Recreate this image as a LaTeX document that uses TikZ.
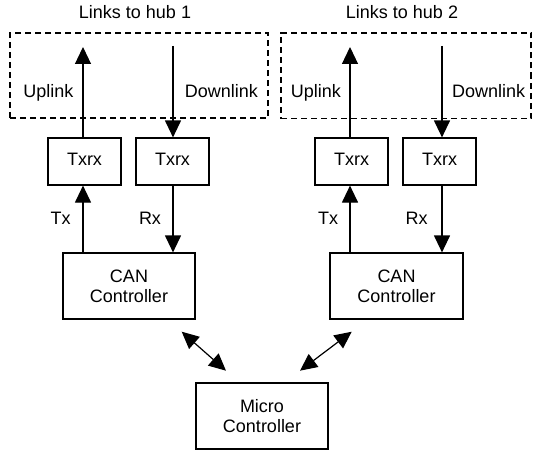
\documentclass[tikz,border=0pt]{standalone}
\usepackage{fontspec}
\setmainfont{Liberation Sans}
\usetikzlibrary{arrows.meta}
\begin{document}
\begin{tikzpicture}[x=1pt,y=-1pt,
  font=\fontsize{18}{20}\selectfont,
  box/.style={draw,line width=1.2pt,inner sep=0pt,align=center,text depth=4.5pt},
  txbox/.style={box,minimum width=73pt,minimum height=47pt},
  ctrl/.style={box,minimum width=132pt,minimum height=66pt,text depth=0pt},
  hub/.style={draw,dashed,dash pattern=on 6pt off 4pt,line width=1.2pt,inner sep=0pt},
  lbl/.style={anchor=base,inner sep=0pt},
  arr/.style={line width=1.2pt,-{Triangle[length=17pt,width=16pt]}},
  darr/.style={line width=1.2pt,{Triangle[length=17pt,width=16pt]}-{Triangle[length=17pt,width=16pt]}}]
\useasboundingbox (0,0) rectangle (533,452);

% dashed regions for the hub links
\node[hub,minimum width=258pt,minimum height=85pt] (hub1) at (139,75.5) {};
\node[hub,minimum width=250pt,minimum height=85.5pt] (hub2) at (406,75.75) {};
\node[lbl] (title1) at (135,18.3) {Links to hub 1};
\node[lbl] (title2) at (402,18.3) {Links to hub 2};

% transceivers
\node[txbox] (t1) at (84.5,161.5) {Txrx};
\node[txbox] (t2) at (172.5,161.5) {Txrx};
\node[txbox] (t3) at (351.5,161.5) {Txrx};
\node[txbox] (t4) at (439.5,161.5) {Txrx};

% controllers
\node[ctrl] (can1) at (129,286) {CAN\\Controller};
\node[ctrl,minimum width=133pt] (can2) at (396.5,286) {CAN\\Controller};
\node[ctrl] (mc) at (262,416) {Micro\\Controller};

% free ends of the hub links
\coordinate (u1) at (83,47);
\coordinate (d1) at (173,46);
\coordinate (u2) at (350,47);
\coordinate (d2) at (442,46);

% links to the hubs
\draw[arr] (t1.north -| u1) -- (u1);
\draw[arr] (d1) -- (t2.north -| d1);
\draw[arr] (t3.north -| u2) -- (u2);
\draw[arr] (d2) -- (t4.north -| d2);
\node[lbl] (up1) at (48.3,97.7) {Uplink};
\node[lbl] (dn1) at (221.3,97.7) {Downlink};
\node[lbl] (up2) at (316,97.7) {Uplink};
\node[lbl] (dn2) at (488.7,97.7) {Downlink};

% transmit and receive lines
\draw[arr] (can1.north -| u1) -- (t1.south -| u1);
\draw[arr] (t2.south -| d1) -- (can1.north -| d1);
\draw[arr] (can2.north -| u2) -- (t3.south -| u2);
\draw[arr] (t4.south -| d2) -- (can2.north -| d2);
\node[lbl] (tx1) at (60.7,224.3) {Tx};
\node[lbl] (rx1) at (150,224.3) {Rx};
\node[lbl] (tx2) at (328,224.3) {Tx};
\node[lbl] (rx2) at (416.7,224.3) {Rx};

% bus between controllers
\coordinate (b1a) at (181.7,331.7);
\coordinate (b1b) at (226,370.7);
\coordinate (b2a) at (351.7,331.7);
\coordinate (b2b) at (300,370.7);
\draw[darr] (b1a) -- (b1b);
\draw[darr] (b2a) -- (b2b);
\end{tikzpicture}
\end{document}
